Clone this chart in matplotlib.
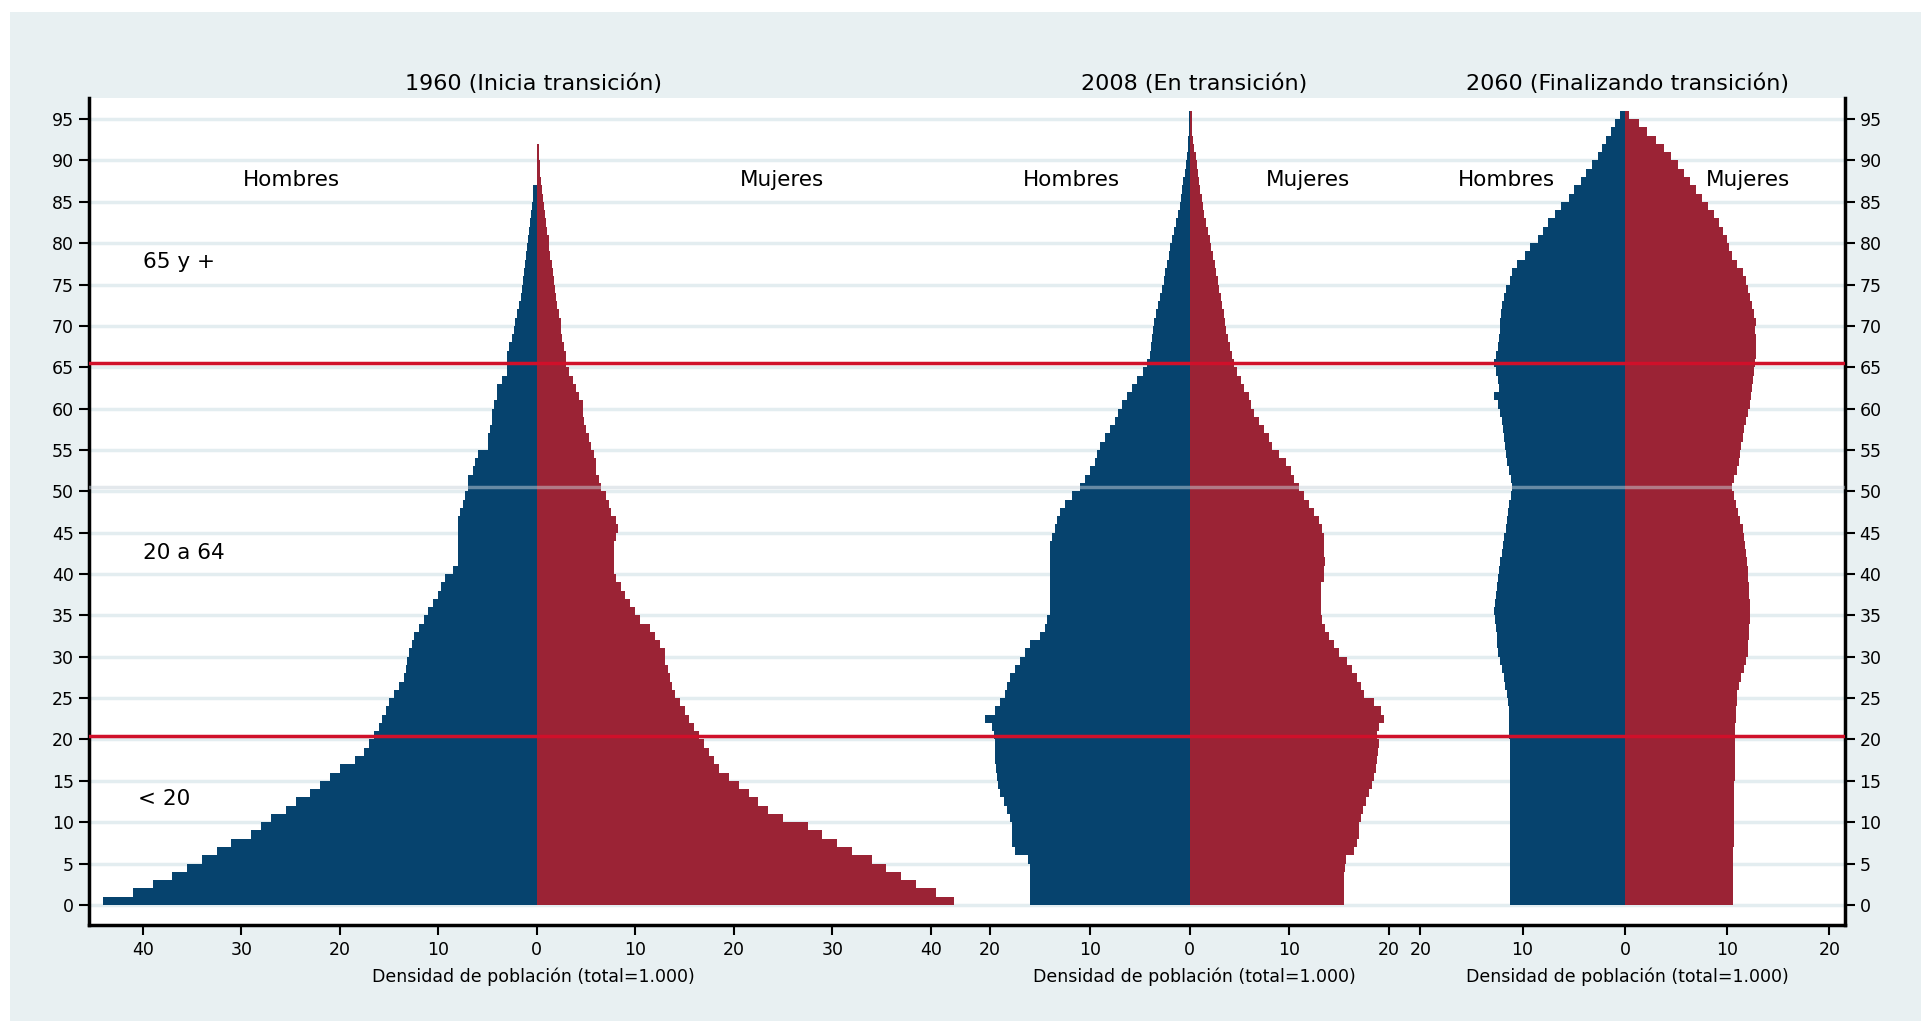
import matplotlib
matplotlib.use("Agg")
import matplotlib.pyplot as plt
from matplotlib.lines import Line2D

ages = list(range(96))
m1960 = [44,41,39,37,35.5,34,32.5,31,29,28,
 27,25.5,24.5,23,22,21,20,18.5,17.5,17,
 16.5,16,15.7,15.3,15,14.5,14,13.5,13.3,13.2,
 13,12.7,12.5,12,11.5,11,10.5,10,9.7,9.3,
 8.5,8,8,8,8,8,8,7.8,7.5,7.3,
 7,7,6.5,6.3,6,5,5,4.8,4.5,4.5,
 4.3,4,4,3.5,3,3,3,2.8,2.5,2.3,
 2.2,2,1.8,1.6,1.5,1.4,1.3,1.2,1.1,1,
 0.9,0.8,0.7,0.6,0.5,0.4,0.35,0,0,0,0,0,0,0,0,0]
f1960 = [42.4,40.5,38.5,37,35.5,34,32,30.5,29,27.5,
 25,23.5,22.5,21.5,20.5,19.5,18.5,18,17.5,17,
 16.5,16,15.5,15,14.5,14,13.7,13.5,13.3,13,
 13,12.5,12,11.5,10.5,10,9.5,9,8.5,8,
 7.8,7.8,7.8,7.8,8,8.2,8,7.5,7.3,7,
 6.5,6.3,6,6,5.8,5.5,5.3,5,4.8,4.7,
 4.7,4.3,4,3.7,3.3,3,3,2.8,2.6,2.5,
 2.5,2.3,2.1,1.9,1.8,1.7,1.6,1.5,1.3,1.2,
 1.2,1,0.9,0.8,0.7,0.6,0.5,0.4,0.35,0.3,0.25,0.2,0,0,0,0]
m2008 = [16,16,16,16,16,16.2,17.5,17.8,17.8,17.8,
 18,18.3,18.6,19,19.2,19.3,19.4,19.5,19.5,19.5,
 19.6,19.8,20.5,19.5,19,18.5,18.3,18,17.5,17,
 16.5,16,15,14.5,14.3,14,14,14,14,14,
 14,14,14,14,13.8,13.5,13.3,13,12.5,11.8,
 11,10.5,10,9.5,9.3,9,8.5,8,7.5,7.2,
 6.8,6.3,5.8,5.3,4.7,4.3,4,3.9,3.8,3.7,
 3.6,3.4,3.2,3,2.8,2.6,2.5,2.3,2.1,2,
 1.8,1.6,1.4,1.2,1,0.9,0.8,0.7,0.5,0.4,0.3,0.2,0.15,0.1,0.1,0.1]
f2008 = [15.5,15.5,15.5,15.5,15.6,15.7,16.5,16.8,17,17,
 17.2,17.4,17.7,18,18.3,18.5,18.7,18.8,18.9,19,
 18.8,19,19.5,19.2,18.5,17.5,17.2,16.8,16.3,15.8,
 15,14.5,14,13.6,13.3,13.2,13.2,13.2,13.2,13.5,
 13.5,13.6,13.5,13.5,13.5,13.3,13,12.5,12,11.5,
 11,10.5,10.2,9.7,9,8.3,8,7.5,7,6.5,
 6.2,6,5.5,5.2,4.8,4.5,4.3,4.1,3.9,3.7,
 3.6,3.5,3.3,3.1,2.9,2.8,2.6,2.5,2.3,2.1,
 2,1.8,1.6,1.4,1.3,1.2,1,0.9,0.8,0.7,0.6,0.4,0.3,0.2,0.2,0.2]
m2060 = [11.2]*20 + [11.3,11.3,11.3,11.3,11.4,11.5,11.7,11.8,12,12.2,
 12.4,12.5,12.5,12.6,12.7,12.8,12.7,12.6,12.5,12.4,
 12.3,12.2,12,11.9,11.8,11.6,11.5,11.4,11.3,11.1,
 11,11.1,11.3,11.5,11.6,11.7,11.8,11.9,12,12.2,
 12.4,12.8,12.3,12.4,12.6,12.8,12.6,12.4,12.3,12.2,
 12.2,12.1,12,11.8,11.6,11.2,11,10.5,9.8,9.3,
 8.5,8,7.5,6.8,6.2,5.5,5,4.3,3.8,3.2,
 2.6,2.2,1.8,1.4,1.0,0.5]
f2060 = [10.6,10.6,10.6,10.6,10.6,10.6,10.6,10.7,10.7,10.7,
 10.7,10.7,10.7,10.7,10.7,10.8,10.8,10.8,10.8,10.8,
 10.8,10.8,10.9,10.9,11,11,11.2,11.4,11.6,11.8,
 12,12,12.1,12.1,12.2,12.2,12.2,12.1,12.1,12,
 12,11.9,11.8,11.7,11.6,11.5,11.3,11.1,10.9,10.7,
 10.5,10.7,11,11.2,11.3,11.4,11.5,11.6,11.8,12,
 12.2,12.3,12.4,12.5,12.6,12.7,12.8,12.8,12.8,12.7,
 12.8,12.6,12.4,12.2,12,11.8,11.5,11,10.5,10.2,
 10,9.6,9.2,8.7,8.1,7.5,7,6.4,5.8,5.2,
 4.5,3.8,3,2.2,1.4,0.4]

titles = ["1960 (Inicia transición)", "2008 (En transición)", "2060 (Finalizando transición)"]
xlabel = "Densidad de población (total=1.000)"
ticks1 = [-40,-30,-20,-10,0,10,20,30,40]
ticks23 = [-20,-10,0,10,20]

BLUE = "#06436e"; RED = "#9b2335"; LINE = "#d0102a"; GRID = "#e3edf0"; BG = "#e8f0f2"
plt.rcParams['font.family'] = ['DejaVu Sans']

fig = plt.figure(figsize=(19.31, 10.33), dpi=100)
W, H = 1568.0, 840.0
bg = fig.add_axes([8/W, 10/H, (1560-8)/W, (830-10)/H], zorder=-10)
bg.set_facecolor(BG); bg.set_xticks([]); bg.set_yticks([])
for s in bg.spines.values():
    s.set_visible(False)

top, bot = 80, 752
panels = [(72, 795, (-45.5, 44.9), m1960, f1960, ticks1),
          (795, 1145, (-21.1, 22.1), m2008, f2008, ticks23),
          (1145, 1498, (-21.0, 21.5), m2060, f2060, ticks23)]
axes = []
for i, (x0, x1, xl, m, f, tk) in enumerate(panels):
    ax = fig.add_axes([x0/W, 1-bot/H, (x1-x0)/W, (bot-top)/H], zorder=1)
    ax.set_facecolor("white")
    ax.set_xlim(*xl); ax.set_ylim(-2.4, 97.5)
    for y in range(0, 100, 5):
        ax.axhline(y, color=GRID, lw=2.5, zorder=0)
    ax.barh(ages, [-v for v in m], height=1, align='edge', color=BLUE, lw=0, zorder=2)
    ax.barh(ages, f, height=1, align='edge', color=RED, lw=0, zorder=2)
    ax.axhline(50.5, color="#c8d2da", lw=2.5, alpha=0.5, zorder=3)
    ax.axhline(65.5, color=LINE, lw=2.5, zorder=4)
    ax.axhline(20.4, color=LINE, lw=2.5, zorder=4)
    ax.set_xticks(tk)
    ax.set_xticklabels([str(abs(t)) for t in tk], fontsize=12.5)
    ax.tick_params(axis='x', length=7, width=1.5, pad=5)
    ax.set_xlabel(xlabel, fontsize=12.5, labelpad=6)
    ax.set_title(titles[i], fontsize=16, pad=6)
    for s in ['top', 'left', 'right', 'bottom']:
        ax.spines[s].set_visible(False)
    ax.set_yticks([])
    axes.append(ax)

# continuous bottom axis line
fig.add_artist(Line2D([72/W, 1498/W], [1-bot/H, 1-bot/H], color='black', lw=2.5,
                      solid_capstyle='projecting', zorder=6))

yt = list(range(0, 100, 5))
a0 = axes[0]
a0.spines['left'].set_visible(True); a0.spines['left'].set_linewidth(2.5)
a0.set_yticks(yt); a0.set_yticklabels([str(v) for v in yt], fontsize=12.5)
a0.tick_params(axis='y', length=7, width=1.5)
a2 = axes[2]
a2.spines['right'].set_visible(True); a2.spines['right'].set_linewidth(2.5)
a2.yaxis.tick_right()
a2.set_yticks(yt); a2.set_yticklabels([str(v) for v in yt], fontsize=12.5)
a2.tick_params(axis='y', length=7, width=1.5)

def ftext(xd, yd, s, ha='center', size=15.5):
    fig.text(xd/W, 1-yd/H, s, ha=ha, va='center', fontsize=size, zorder=5)
for xd, s in [(237, "Hombres"), (635, "Mujeres"), (870, "Hombres"), (1062, "Mujeres"),
              (1223, "Hombres"), (1419, "Mujeres")]:
    ftext(xd, 146, s)
ftext(116, 213, "65 y +", ha='left')
ftext(116, 450, "20 a 64", ha='left')
ftext(112, 650, "< 20", ha='left')

fig.savefig("out.png", dpi=100, facecolor="white")
